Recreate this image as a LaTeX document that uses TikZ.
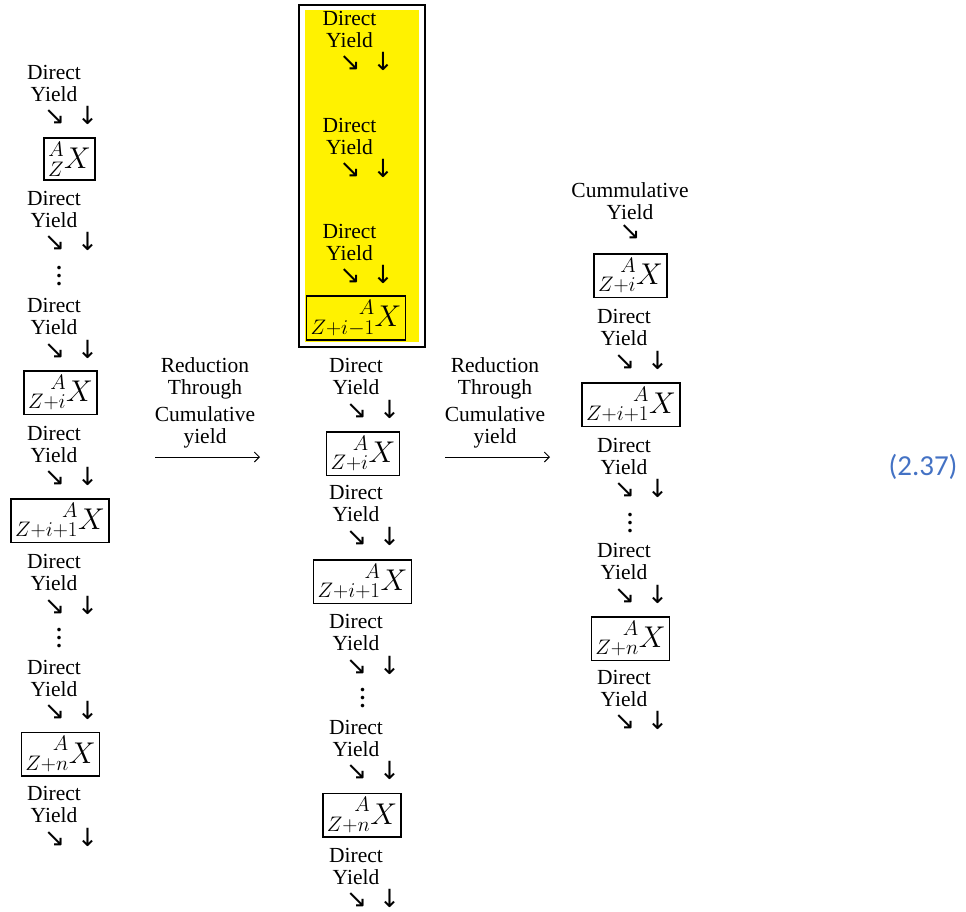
\RequirePackage{fix-cm}
\documentclass[tikz,border=0pt]{standalone}
\usepackage{mathtools}
\usepackage{fontspec}
\setmainfont{Liberation Serif}
\newfontfamily\arrowfont{DejaVu Sans}
\newfontfamily\eqfont{Carlito}
\usepackage{tikz}
\usetikzlibrary{arrows.meta, positioning}
\definecolor{eqblue}{RGB}{68,114,196}

\begin{document}
\begin{tikzpicture}[
        x=1pt, y=-1pt,
        dy/.style={align=center, inner sep=0pt, font=\fontsize{21.5}{22}\selectfont},
        arr/.style={inner sep=0pt, font=\arrowfont\fontsize{25}{26}\selectfont},
        nuc/.style={draw, line width=1.5pt, inner sep=4pt, font=\fontsize{30}{32}\selectfont},
        dots/.style={align=center, inner sep=0pt, font=\bfseries\fontsize{22}{8}\selectfont},
        reduce/.style={align=center, inner sep=0pt, font=\fontsize{21.5}{22}\selectfont},
        redarr/.style={-{Straight Barb[length=5pt]}, line width=0.9pt}
    ]
        \useasboundingbox (0,0) rectangle (966,911);

        % Left column
        \node[dy] (l1) at (54,83) {Direct\\Yield};
        \node[arr, below=5pt of l1, xshift=17pt] (la1) {↘\hspace{12pt}↓};
        \node[nuc] (lx1) at (69.5,159) {$\prescript{A}{Z}{X}$};
        \node[dy] (l2) at (54,209) {Direct\\Yield};
        \node[arr, below=5pt of l2, xshift=17pt] (la2) {↘\hspace{12pt}↓};
        \node[dots] (ld1) at (59,276) {.\\.\\.};
        \node[dy] (l3) at (54,316.5) {Direct\\Yield};
        \node[arr, below=5pt of l3, xshift=17pt] (la3) {↘\hspace{12pt}↓};
        \node[nuc] (lx2) at (60.5,392.5) {$\prescript{A}{Z+i}{X}$};
        \node[dy] (l4) at (54,444) {Direct\\Yield};
        \node[arr, below=5pt of l4, xshift=17pt] (la4) {↘\hspace{12pt}↓};
        \node[nuc] (lx3) at (60,520.5) {$\prescript{A}{Z+i+1}{X}$};
        \node[dy] (l5) at (54,572.5) {Direct\\Yield};
        \node[arr, below=5pt of l5, xshift=17pt] (la5) {↘\hspace{12pt}↓};
        \node[dots] (ld2) at (59,638) {.\\.\\.};
        \node[dy] (l6) at (54,678) {Direct\\Yield};
        \node[arr, below=5pt of l6, xshift=17pt] (la6) {↘\hspace{12pt}↓};
        \node[nuc] (lx4) at (60.5,754) {$\prescript{A}{Z+n}{X}$};
        \node[dy] (l7) at (54,804.5) {Direct\\Yield};
        \node[arr, below=5pt of l7, xshift=17pt] (la7) {↘\hspace{12pt}↓};

        % First reduction
        \node[reduce] (via1) at (205,403) {Reduction\\Through\\[5pt]Cumulative\\yield};
        \coordinate (va1) at (155,457);
        \coordinate (vb1) at (260,457);
        \draw[redarr] (va1) -- (vb1);

        % Middle column, highlighted part
        \fill[yellow] (305,10) rectangle (419,342);
        \draw[line width=1.5pt] (299,5) rectangle (425,347);
        \node[dy] (m1) at (349.5,29) {Direct\\Yield};
        \node[arr, below=5pt of m1, xshift=17pt] (ma1) {↘\hspace{12pt}↓};
        \node[dy] (m2) at (349.5,136) {Direct\\Yield};
        \node[arr, below=5pt of m2, xshift=17pt] (ma2) {↘\hspace{12pt}↓};
        \node[dy] (m3) at (349.5,242) {Direct\\Yield};
        \node[arr, below=5pt of m3, xshift=17pt] (ma3) {↘\hspace{12pt}↓};
        \node[nuc] (mx0) at (356,318) {$\prescript{A}{Z+i-1}{X}$};

        % Middle column
        \node[dy] (m4) at (356,376.5) {Direct\\Yield};
        \node[arr, below=5pt of m4, xshift=17pt] (ma4) {↘\hspace{12pt}↓};
        \node[nuc] (mx1) at (363,453.5) {$\prescript{A}{Z+i}{X}$};
        \node[dy] (m5) at (356,503.5) {Direct\\Yield};
        \node[arr, below=5pt of m5, xshift=17pt] (ma5) {↘\hspace{12pt}↓};
        \node[nuc] (mx2) at (362.5,581.5) {$\prescript{A}{Z+i+1}{X}$};
        \node[dy] (m6) at (356,632.5) {Direct\\Yield};
        \node[arr, below=5pt of m6, xshift=17pt] (ma6) {↘\hspace{12pt}↓};
        \node[dots] (md1) at (362.7,698) {.\\.\\.};
        \node[dy] (m7) at (356,738) {Direct\\Yield};
        \node[arr, below=5pt of m7, xshift=17pt] (ma7) {↘\hspace{12pt}↓};
        \node[nuc] (mx3) at (362,815) {$\prescript{A}{Z+n}{X}$};
        \node[dy] (m8) at (356,866) {Direct\\Yield};
        \node[arr, below=5pt of m8, xshift=17pt] (ma8) {↘\hspace{12pt}↓};

        % Second reduction
        \node[reduce] (via2) at (495,403) {Reduction\\Through\\[5pt]Cumulative\\yield};
        \coordinate (va2) at (445,457);
        \coordinate (vb2) at (550,457);
        \draw[redarr] (va2) -- (vb2);

        % Right column
        \node[dy] (rc) at (630,201) {Cummulative\\Yield};
        \node[arr, below=5pt of rc] (rca) {↘};
        \node[nuc] (rx1) at (630.5,275.5) {$\prescript{A}{Z+i}{X}$};
        \node[dy] (r1) at (624,327.5) {Direct\\Yield};
        \node[arr, below=5pt of r1, xshift=17pt] (ra1) {↘\hspace{12pt}↓};
        \node[nuc] (rx2) at (631,404.5) {$\prescript{A}{Z+i+1}{X}$};
        \node[dy] (r2) at (624,456) {Direct\\Yield};
        \node[arr, below=5pt of r2, xshift=17pt] (ra2) {↘\hspace{12pt}↓};
        \node[dots] (rd1) at (630,523) {.\\.\\.};
        \node[dy] (r3) at (624,561.5) {Direct\\Yield};
        \node[arr, below=5pt of r3, xshift=17pt] (ra3) {↘\hspace{12pt}↓};
        \node[nuc] (rx3) at (630.5,638.5) {$\prescript{A}{Z+n}{X}$};
        \node[dy] (r4) at (624,688) {Direct\\Yield};
        \node[arr, below=5pt of r4, xshift=17pt] (ra4) {↘\hspace{12pt}↓};

        % Equation number
        \node[inner sep=0pt, text=eqblue, font=\eqfont\fontsize{29}{32}\selectfont] (eqn) at (923,467) {(2.37)};
    \end{tikzpicture}
\end{document}
